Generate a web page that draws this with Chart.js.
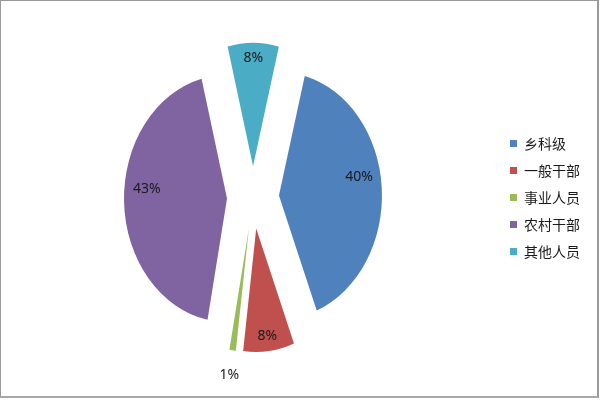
<!DOCTYPE html>
<html>
<head>
<meta charset="utf-8">
<script src="https://cdn.jsdelivr.net/npm/chart.js@4/dist/chart.umd.min.js"></script>
<style>
html,body{margin:0;padding:0;background:#fff;}
#wrap{position:absolute;left:0;top:0;width:596px;height:395px;border:1px solid #9a9a9a;border-right:2px solid #9a9a9a;border-bottom:2px solid #a8a8a8;background:#fff;}
canvas{display:block;}
</style>
</head>
<body>
<div id="wrap"><canvas id="c" width="596" height="395"></canvas></div>
<script>
const categories = ['乡科级', '一般干部', '事业人员', '农村干部', '其他人员'];
const values = [40, 8, 1, 43, 8];
const colors = ['#4F81BD', '#C0504D', '#9BBB59', '#8064A2', '#4BACC6'];

const CJK = '"Noto Sans CJK SC", "Noto Sans", sans-serif';
const SY = 1.2;        // vertical stretch of the pie (drawn as an ellipse)
const EXPLODE = 26;    // distance each slice is pulled out

const ellipsePlugin = {
  id: 'ellipse',
  beforeDatasetsDraw(chart) {
    const ca = chart.chartArea;
    const bx = (ca.left + ca.right) / 2;
    const by = (ca.top + ca.bottom) / 2;
    const meta = chart.getDatasetMeta(0);
    meta.data.forEach(a => {
      const mid = (a.startAngle + a.endAngle) / 2;
      a.x = bx + Math.cos(mid) * EXPLODE;
      a.y = by + Math.sin(mid) * EXPLODE;
    });
    const ctx = chart.ctx;
    ctx.save();
    ctx.translate(0, by);
    ctx.scale(1, SY);
    ctx.translate(0, -by);
  },
  afterDatasetsDraw(chart) {
    const ctx = chart.ctx;
    ctx.restore();
    const ca = chart.chartArea;
    const by = (ca.top + ca.bottom) / 2;
    const meta = chart.getDatasetMeta(0);
    const total = values.reduce((a, b) => a + b, 0);
    ctx.save();
    ctx.font = '14px "Noto Sans", sans-serif';
    ctx.fillStyle = '#1a1a1a';
    ctx.textAlign = 'center';
    ctx.textBaseline = 'middle';
    meta.data.forEach((a, i) => {
      const pct = values[i] / total * 100;
      const mid = (a.startAngle + a.endAngle) / 2;
      const f = pct < 2 ? 1.2 : (pct < 10 ? 0.88 : 0.78);
      const r = a.outerRadius * f;
      const lift = pct > 25 ? a.outerRadius * 0.1 : 0;
      const x = a.x + Math.cos(mid) * r;
      const y = by + (a.y - by + Math.sin(mid) * r - lift) * SY;
      ctx.fillText(Math.round(pct) + '%', x, y);
    });
    ctx.restore();
  }
};

new Chart(document.getElementById('c'), {
  type: 'pie',
  data: {
    labels: categories,
    datasets: [{
      data: values,
      backgroundColor: colors,
      borderWidth: 0
    }]
  },
  options: {
    responsive: false,
    animation: false,
    rotation: 14.5,
    radius: 103,
    layout: { padding: { left: 8, right: 7, top: 0, bottom: 2 } },
    plugins: {
      tooltip: { enabled: false },
      legend: {
        position: 'right',
        labels: {
          boxWidth: 7,
          boxHeight: 7,
          padding: 13,
          color: '#1a1a1a',
          font: { size: 14, family: CJK }
        }
      }
    }
  },
  plugins: [ellipsePlugin]
});
</script>
</body>
</html>
